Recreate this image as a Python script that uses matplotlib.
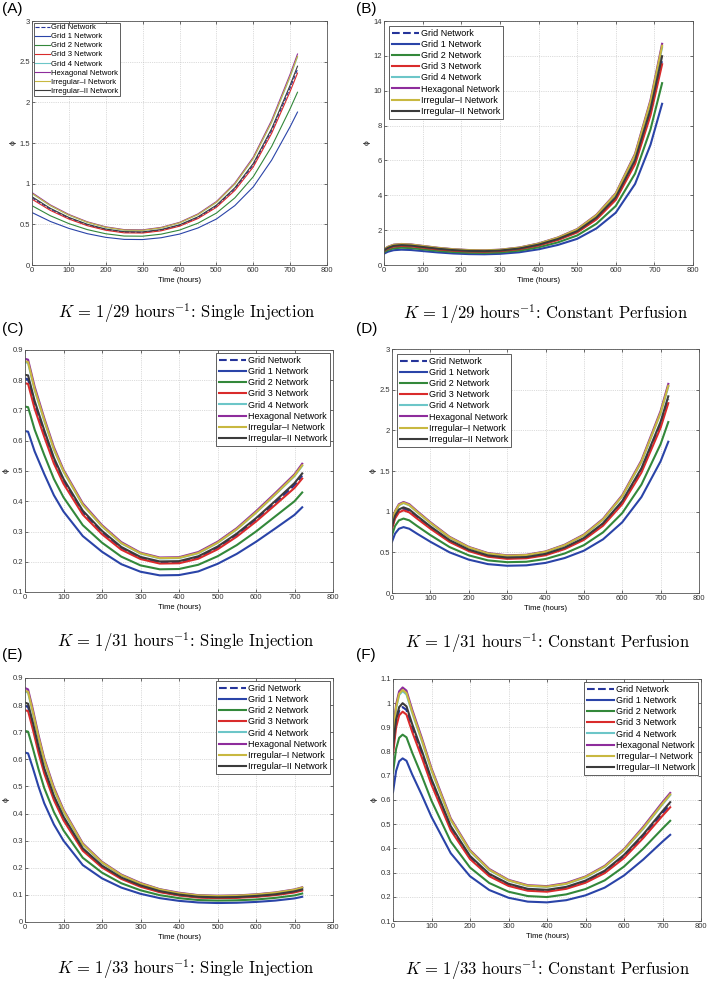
import matplotlib

matplotlib.use("Agg")
import matplotlib.pyplot as plt
from matplotlib.ticker import FuncFormatter, MultipleLocator

plt.rcParams["font.family"] = ["Liberation Sans", "DejaVu Sans"]
plt.rcParams["mathtext.fontset"] = "cm"

NETWORKS = [
    "Grid Network",
    "Grid 1 Network",
    "Grid 2 Network",
    "Grid 3 Network",
    "Grid 4 Network",
    "Hexagonal Network",
    "Irregular\u2013I Network",
    "Irregular\u2013II Network",
]
COLORS = ["#25349a", "#2a44a8", "#33883a", "#d92b2b", "#6cc6c8", "#8e2c9c", "#c8b840", "#3b3b3b"]
STYLES = ["--", "-", "-", "-", "-", "-", "-", "-"]

# (A) K = 1/29, single injection
time_a = [0, 50, 100, 150, 200, 250, 300, 350, 400, 450, 500, 550, 600, 650, 700, 720]
phi_a = [
    [0.826, 0.685, 0.576, 0.493, 0.435, 0.403, 0.401, 0.429, 0.486, 0.582, 0.723, 0.934, 1.229, 1.651, 2.176, 2.406],
    [0.645, 0.535, 0.450, 0.385, 0.340, 0.315, 0.313, 0.335, 0.380, 0.455, 0.565, 0.730, 0.960, 1.290, 1.700, 1.880],
    [0.729, 0.605, 0.509, 0.435, 0.384, 0.356, 0.354, 0.379, 0.429, 0.514, 0.638, 0.825, 1.085, 1.458, 1.921, 2.124],
    [0.809, 0.671, 0.565, 0.483, 0.427, 0.395, 0.393, 0.420, 0.477, 0.571, 0.709, 0.916, 1.205, 1.619, 2.134, 2.359],
    [0.877, 0.728, 0.612, 0.524, 0.462, 0.428, 0.426, 0.456, 0.517, 0.619, 0.768, 0.993, 1.306, 1.754, 2.312, 2.557],
    [0.890, 0.738, 0.621, 0.531, 0.469, 0.435, 0.432, 0.462, 0.524, 0.628, 0.780, 1.007, 1.325, 1.780, 2.346, 2.594],
    [0.880, 0.730, 0.614, 0.526, 0.464, 0.430, 0.427, 0.457, 0.519, 0.621, 0.771, 0.996, 1.310, 1.761, 2.321, 2.566],
    [0.839, 0.696, 0.585, 0.501, 0.442, 0.410, 0.407, 0.436, 0.494, 0.592, 0.735, 0.949, 1.248, 1.677, 2.210, 2.444],
]

# (B) K = 1/29, constant perfusion
time_b = [0, 10, 25, 45, 70, 100, 140, 180, 220, 260, 300, 350, 400, 450, 500, 550, 600, 650, 690, 720]
phi_b = [
    [0.826, 0.965, 1.080, 1.118, 1.092, 1.016, 0.914, 0.838, 0.794, 0.781, 0.813, 0.927, 1.143, 1.461, 1.905, 2.667, 3.810, 5.906, 8.763, 11.748],
    [0.650, 0.760, 0.850, 0.880, 0.860, 0.800, 0.720, 0.660, 0.625, 0.615, 0.640, 0.730, 0.900, 1.150, 1.500, 2.100, 3.000, 4.650, 6.900, 9.250],
    [0.733, 0.857, 0.959, 0.993, 0.970, 0.902, 0.812, 0.744, 0.705, 0.694, 0.722, 0.823, 1.015, 1.297, 1.692, 2.369, 3.384, 5.245, 7.783, 10.434],
    [0.809, 0.946, 1.058, 1.096, 1.071, 0.996, 0.896, 0.822, 0.778, 0.766, 0.797, 0.909, 1.121, 1.432, 1.868, 2.615, 3.735, 5.789, 8.591, 11.516],
    [0.878, 1.026, 1.148, 1.188, 1.161, 1.080, 0.972, 0.891, 0.844, 0.830, 0.864, 0.986, 1.215, 1.553, 2.025, 2.835, 4.050, 6.278, 9.315, 12.488],
    [0.892, 1.043, 1.166, 1.207, 1.180, 1.098, 0.988, 0.906, 0.858, 0.844, 0.878, 1.002, 1.235, 1.578, 2.058, 2.881, 4.116, 6.380, 9.467, 12.691],
    [0.884, 1.034, 1.156, 1.197, 1.170, 1.088, 0.979, 0.898, 0.850, 0.836, 0.870, 0.993, 1.224, 1.564, 2.040, 2.856, 4.080, 6.324, 9.384, 12.580],
    [0.842, 0.984, 1.101, 1.140, 1.114, 1.036, 0.932, 0.855, 0.809, 0.796, 0.829, 0.945, 1.166, 1.489, 1.943, 2.720, 3.885, 6.022, 8.936, 11.979],
]

# (C) K = 1/31, single injection
time_c = [0, 8, 25, 50, 75, 100, 150, 200, 250, 300, 350, 400, 450, 500, 550, 600, 650, 700, 720]
phi_c = [
    [0.806, 0.803, 0.720, 0.625, 0.536, 0.467, 0.363, 0.297, 0.245, 0.213, 0.198, 0.199, 0.214, 0.246, 0.288, 0.339, 0.395, 0.453, 0.485],
    [0.632, 0.630, 0.565, 0.490, 0.420, 0.366, 0.285, 0.233, 0.192, 0.167, 0.155, 0.156, 0.168, 0.193, 0.226, 0.266, 0.310, 0.355, 0.380],
    [0.713, 0.711, 0.637, 0.553, 0.474, 0.413, 0.321, 0.263, 0.217, 0.188, 0.175, 0.176, 0.190, 0.218, 0.255, 0.300, 0.350, 0.400, 0.429],
    [0.790, 0.788, 0.706, 0.613, 0.525, 0.458, 0.356, 0.291, 0.240, 0.209, 0.194, 0.195, 0.210, 0.241, 0.283, 0.333, 0.388, 0.444, 0.475],
    [0.860, 0.857, 0.768, 0.666, 0.571, 0.498, 0.388, 0.317, 0.261, 0.227, 0.211, 0.212, 0.228, 0.262, 0.307, 0.362, 0.422, 0.483, 0.517],
    [0.871, 0.868, 0.779, 0.675, 0.579, 0.504, 0.393, 0.321, 0.265, 0.230, 0.214, 0.215, 0.232, 0.266, 0.311, 0.367, 0.427, 0.489, 0.524],
    [0.863, 0.860, 0.771, 0.669, 0.573, 0.500, 0.389, 0.318, 0.262, 0.228, 0.212, 0.213, 0.229, 0.263, 0.308, 0.363, 0.423, 0.485, 0.519],
    [0.818, 0.816, 0.732, 0.635, 0.544, 0.474, 0.369, 0.302, 0.249, 0.216, 0.201, 0.202, 0.218, 0.250, 0.293, 0.344, 0.401, 0.460, 0.492],
]

# (D) K = 1/31, constant perfusion
time_d = [0, 8, 18, 30, 45, 65, 100, 150, 200, 250, 300, 350, 400, 450, 500, 550, 600, 650, 700, 720]
phi_d = [
    [0.806, 0.934, 1.011, 1.037, 1.011, 0.934, 0.806, 0.640, 0.525, 0.454, 0.429, 0.435, 0.474, 0.550, 0.666, 0.845, 1.114, 1.510, 2.074, 2.381],
    [0.630, 0.730, 0.790, 0.810, 0.790, 0.730, 0.630, 0.500, 0.410, 0.355, 0.335, 0.340, 0.370, 0.430, 0.520, 0.660, 0.870, 1.180, 1.620, 1.860],
    [0.712, 0.825, 0.893, 0.915, 0.893, 0.825, 0.712, 0.565, 0.463, 0.401, 0.379, 0.384, 0.418, 0.486, 0.588, 0.746, 0.983, 1.333, 1.831, 2.102],
    [0.791, 0.916, 0.991, 1.017, 0.991, 0.916, 0.791, 0.628, 0.515, 0.446, 0.420, 0.427, 0.464, 0.540, 0.653, 0.828, 1.092, 1.481, 2.033, 2.334],
    [0.860, 0.996, 1.078, 1.106, 1.078, 0.996, 0.860, 0.683, 0.560, 0.485, 0.457, 0.464, 0.505, 0.587, 0.710, 0.901, 1.188, 1.611, 2.211, 2.539],
    [0.871, 1.009, 1.092, 1.119, 1.092, 1.009, 0.871, 0.691, 0.567, 0.491, 0.463, 0.470, 0.511, 0.594, 0.719, 0.912, 1.202, 1.631, 2.239, 2.571],
    [0.863, 1.000, 1.082, 1.110, 1.082, 1.000, 0.863, 0.685, 0.562, 0.486, 0.459, 0.466, 0.507, 0.589, 0.712, 0.904, 1.192, 1.617, 2.219, 2.548],
    [0.819, 0.949, 1.027, 1.053, 1.027, 0.949, 0.819, 0.650, 0.533, 0.462, 0.436, 0.442, 0.481, 0.559, 0.676, 0.858, 1.131, 1.534, 2.106, 2.418],
]

# (E) K = 1/33, single injection
time_e = [0, 8, 20, 35, 50, 75, 100, 150, 200, 250, 300, 350, 400, 450, 500, 550, 600, 650, 700, 720]
phi_e = [
    [0.797, 0.793, 0.727, 0.638, 0.558, 0.459, 0.383, 0.268, 0.205, 0.162, 0.133, 0.112, 0.099, 0.092, 0.089, 0.091, 0.094, 0.101, 0.111, 0.119],
    [0.625, 0.622, 0.570, 0.500, 0.438, 0.360, 0.300, 0.210, 0.161, 0.127, 0.104, 0.088, 0.078, 0.072, 0.070, 0.071, 0.074, 0.079, 0.087, 0.093],
    [0.705, 0.702, 0.643, 0.564, 0.494, 0.406, 0.338, 0.237, 0.182, 0.143, 0.117, 0.099, 0.088, 0.081, 0.079, 0.080, 0.083, 0.089, 0.098, 0.105],
    [0.781, 0.778, 0.713, 0.625, 0.548, 0.450, 0.375, 0.263, 0.201, 0.159, 0.130, 0.110, 0.098, 0.090, 0.088, 0.089, 0.093, 0.099, 0.109, 0.116],
    [0.850, 0.846, 0.775, 0.680, 0.596, 0.490, 0.408, 0.286, 0.219, 0.173, 0.141, 0.120, 0.106, 0.098, 0.095, 0.097, 0.101, 0.107, 0.118, 0.126],
    [0.863, 0.858, 0.787, 0.690, 0.604, 0.497, 0.414, 0.290, 0.222, 0.175, 0.144, 0.121, 0.108, 0.099, 0.097, 0.098, 0.102, 0.109, 0.120, 0.128],
    [0.853, 0.849, 0.778, 0.683, 0.598, 0.491, 0.410, 0.287, 0.220, 0.173, 0.142, 0.120, 0.106, 0.098, 0.096, 0.097, 0.101, 0.108, 0.119, 0.127],
    [0.809, 0.805, 0.738, 0.648, 0.567, 0.466, 0.389, 0.272, 0.208, 0.164, 0.135, 0.114, 0.101, 0.093, 0.091, 0.092, 0.096, 0.102, 0.113, 0.120],
]

# (F) K = 1/33, constant perfusion
time_f = [0, 8, 16, 25, 35, 50, 75, 100, 150, 200, 250, 300, 350, 400, 450, 500, 550, 600, 650, 700, 720]
phi_f = [
    [0.806, 0.918, 0.969, 0.984, 0.972, 0.899, 0.791, 0.676, 0.485, 0.363, 0.291, 0.250, 0.230, 0.226, 0.237, 0.263, 0.303, 0.367, 0.451, 0.546, 0.581],
    [0.632, 0.720, 0.760, 0.772, 0.762, 0.705, 0.620, 0.530, 0.380, 0.285, 0.228, 0.196, 0.180, 0.177, 0.186, 0.206, 0.238, 0.288, 0.354, 0.428, 0.456],
    [0.712, 0.811, 0.857, 0.870, 0.859, 0.795, 0.699, 0.597, 0.428, 0.321, 0.257, 0.221, 0.203, 0.199, 0.210, 0.232, 0.268, 0.325, 0.399, 0.482, 0.514],
    [0.790, 0.900, 0.950, 0.965, 0.953, 0.881, 0.775, 0.663, 0.475, 0.356, 0.285, 0.245, 0.225, 0.221, 0.233, 0.258, 0.298, 0.360, 0.443, 0.535, 0.570],
    [0.860, 0.979, 1.034, 1.050, 1.036, 0.959, 0.843, 0.721, 0.517, 0.388, 0.310, 0.267, 0.245, 0.241, 0.253, 0.280, 0.324, 0.392, 0.481, 0.582, 0.620],
    [0.872, 0.994, 1.049, 1.065, 1.052, 0.973, 0.856, 0.731, 0.524, 0.393, 0.315, 0.270, 0.248, 0.244, 0.257, 0.284, 0.328, 0.397, 0.489, 0.591, 0.629],
    [0.864, 0.984, 1.039, 1.055, 1.042, 0.964, 0.848, 0.725, 0.519, 0.390, 0.312, 0.268, 0.246, 0.242, 0.254, 0.282, 0.325, 0.394, 0.484, 0.585, 0.623],
    [0.818, 0.932, 0.984, 1.000, 0.987, 0.913, 0.803, 0.686, 0.492, 0.369, 0.295, 0.254, 0.233, 0.229, 0.241, 0.267, 0.308, 0.373, 0.458, 0.554, 0.591],
]

# letter, letter px, time, series, axes box px (left, top, right, bottom), ylim, ystep,
# legend loc, line width, K denominator, mode, caption centre px
PANELS = [
    ("(A)", (2, 2), time_a, phi_a, (32, 21, 327, 265), (0, 3), 0.5, "upper left", 0.8, "29", "Single Injection", (187, 313)),
    ("(B)", (356, 2), time_b, phi_b, (384, 21, 693, 265), (0, 14), 2, "upper left", 1.5, "29", "Constant Perfusion", (546, 314)),
    ("(C)", (2, 322), time_c, phi_c, (25, 350, 333, 592), (0.1, 0.9), 0.1, "upper right", 1.5, "31", "Single Injection", (186, 642)),
    ("(D)", (356, 322), time_d, phi_d, (392, 349, 699, 593), (0, 3), 0.5, "upper left", 1.5, "31", "Constant Perfusion", (548, 643)),
    ("(E)", (2, 648), time_e, phi_e, (25, 678, 333, 922), (0, 0.9), 0.1, "upper right", 1.5, "33", "Single Injection", (186, 969)),
    ("(F)", (356, 648), time_f, phi_f, (393, 679, 701, 921), (0.1, 1.1), 0.1, "upper right", 1.5, "33", "Constant Perfusion", (548, 970)),
]

W, H = 709, 981
fig = plt.figure(figsize=(W / 100, H / 100), dpi=100)


def fmt(v, _pos):
    return f"{v:g}"


for letter, letter_xy, times, series, box, ylim, ystep, loc, lw, kval, mode, cap_xy in PANELS:
    left, top, right, bottom = box
    ax = fig.add_axes([left / W, 1 - bottom / H, (right - left) / W, (bottom - top) / H])
    for name, values, color, ls in zip(NETWORKS, series, COLORS, STYLES):
        ax.plot(times, values, color=color, linestyle=ls, linewidth=lw, label=name)
    ax.set_xlim(0, 800)
    ax.set_ylim(*ylim)
    ax.xaxis.set_major_locator(MultipleLocator(100))
    ax.yaxis.set_major_locator(MultipleLocator(ystep))
    ax.yaxis.set_major_formatter(FuncFormatter(fmt))
    ax.tick_params(direction="in", length=2.5, width=0.5, labelsize=5.5, pad=1.5,
                   top=True, right=True, colors="#333333")
    ax.grid(True, linestyle=":", linewidth=0.5, color="#bbbbbb")
    for spine in ax.spines.values():
        spine.set_linewidth(0.6)
        spine.set_color("#555555")
    ax.set_xlabel("Time (hours)", fontsize=5.5, labelpad=2)
    ax.set_ylabel("\u03d5", fontsize=6, labelpad=2)

    if letter == "(A)":
        leg = ax.legend(loc=loc, fontsize=5.5, handlelength=2.0, handletextpad=0.1,
                        labelspacing=0.22, borderpad=0.2, borderaxespad=0.2,
                        fancybox=False, framealpha=1)
    else:
        leg = ax.legend(loc=loc, fontsize=6.5, handlelength=3.0, handletextpad=0.2,
                        labelspacing=0.24, borderpad=0.3,
                        borderaxespad=0.55 if loc == "upper left" else 0.35,
                        fancybox=False, framealpha=1)
    leg.get_frame().set_edgecolor("#444444")
    leg.get_frame().set_linewidth(0.6)

    fig.text(letter_xy[0] / W, 1 - letter_xy[1] / H, letter, fontsize=11, ha="left", va="top")
    caption = rf"$K\,=\,1/{kval}\ \mathrm{{hours}}^{{-1}}$: {mode}"
    fig.text(cap_xy[0] / W, 1 - cap_xy[1] / H, caption, fontsize=12, family="cmr10",
             ha="center", va="center")

fig.savefig("out.png", dpi=100)
